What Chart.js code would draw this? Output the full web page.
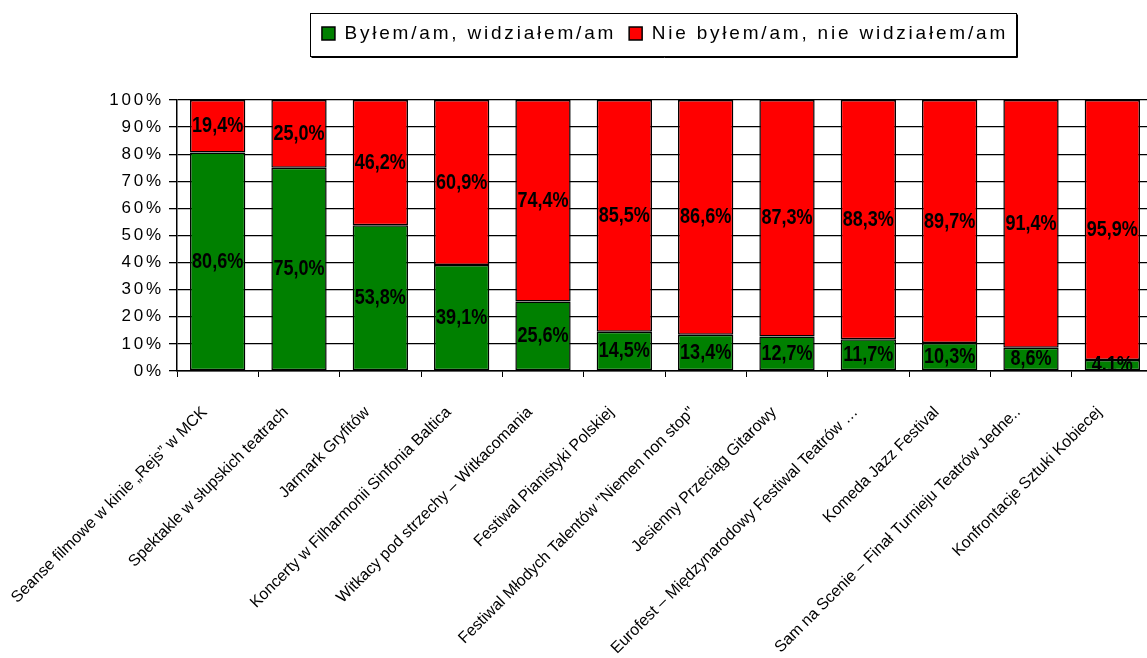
<!DOCTYPE html>
<html lang="pl">
<head>
<meta charset="utf-8">
<title>Udział w wydarzeniach kulturalnych</title>
<script src="https://cdn.jsdelivr.net/npm/chart.js@4.4.0/dist/chart.umd.min.js"></script>
<style>
  html, body { margin: 0; padding: 0; background: #fff; overflow: hidden; }
  #wrap { width: 1160px; height: 658px; }
</style>
</head>
<body>
<div id="wrap"><canvas id="chart" width="1160" height="658"></canvas></div>
<script>
// Events shown on the category axis
const categories = [
  'Seanse filmowe w kinie \u201eRejs\u201d w MCK',
  'Spektakle w słupskich teatrach',
  'Jarmark Gryfitów',
  'Koncerty w Filharmonii Sinfonia Baltica',
  'Witkacy pod strzechy \u2013 Witkacomania',
  'Festiwal Pianistyki Polskiej',
  'Festiwal Młodych Talentów "Niemen non stop"',
  'Jesienny Przeciąg Gitarowy',
  'Eurofest \u2013 Międzynarodowy Festiwal Teatrów \u2026',
  'Komeda Jazz Festival',
  'Sam na Scenie \u2013 Finał Turnieju Teatrów Jedne..',
  'Konfrontacje Sztuki Kobiecej'
];

// Share of respondents (%)
const seenValues    = [80.6, 75.0, 53.8, 39.1, 25.6, 14.5, 13.4, 12.7, 11.7, 10.3, 8.6, 4.1];
const notSeenValues = [19.4, 25.0, 46.2, 60.9, 74.4, 85.5, 86.6, 87.3, 88.3, 89.7, 91.4, 95.9];

const seriesNames  = ['Byłem/am, widziałem/am', 'Nie byłem/am, nie widziałem/am'];
const seriesColors = ['#008000', '#FF0000'];

// Percent axis
const yMin = 0, yMax = 100, yStep = 10;

const FONT = '"Liberation Sans", Arial, Helvetica, sans-serif';
const WIDE_SPACING = '2.8px';
const LABEL_SPACING = '0px';

const fmtPct = v => v.toFixed(1).replace('.', ',') + '%';

// Letter spacing for legend / value-axis text; category labels get their own
const textSpacing = {
  id: 'textSpacing',
  beforeLayout(chart) {
    chart.ctx.letterSpacing = WIDE_SPACING;
    const lg = chart.legend;
    if (lg && !lg._fixedHeight) {
      const fit = lg.fit;
      lg.fit = function () { fit.call(this); this.height = 89; };
      lg._fixedHeight = true;
    }
  },
  afterLayout(chart) {
    const sx = chart.scales.x;
    if (sx && !sx._spaced) {
      const draw = sx.drawLabels;
      sx.drawLabels = function (area) {
        const c = this.ctx;
        const prev = c.letterSpacing;
        c.letterSpacing = LABEL_SPACING;
        draw.call(this, area);
        c.letterSpacing = prev;
      };
      sx._spaced = true;
    }
  },
  beforeDraw(chart) {
    chart.ctx.letterSpacing = WIDE_SPACING;
  }
};

// Value labels in the middle of every stacked segment
const segmentLabels = {
  id: 'segmentLabels',
  afterDatasetsDraw(chart) {
    const { ctx, chartArea } = chart;
    ctx.save();
    ctx.beginPath();
    ctx.rect(chartArea.left, chartArea.top, chartArea.right - chartArea.left, chartArea.bottom - chartArea.top);
    ctx.clip();
    ctx.letterSpacing = '0px';
    ctx.font = 'bold 22px ' + FONT;
    ctx.fillStyle = '#000';
    ctx.textAlign = 'center';
    ctx.textBaseline = 'middle';
    chart.data.datasets.forEach((ds, di) => {
      chart.getDatasetMeta(di).data.forEach((bar, i) => {
        const y = (bar.y + bar.base) / 2;
        ctx.save();
        ctx.translate(bar.x, y);
        ctx.scale(0.82, 1);
        ctx.fillText(fmtPct(ds.data[i]), 0, 0);
        ctx.restore();
      });
    });
    ctx.restore();
  }
};

// Frame around the legend
const legendFrame = {
  id: 'legendFrame',
  afterDraw(chart) {
    const boxes = chart.legend && chart.legend.legendHitBoxes;
    if (!boxes || !boxes.length) return;
    const l = Math.min(...boxes.map(b => b.left)) - 12;
    const r = Math.max(...boxes.map(b => b.left + b.width)) + 8;
    const t = boxes[0].top - 11;
    const b = boxes[0].top + boxes[0].height + 13;
    const ctx = chart.ctx;
    ctx.save();
    ctx.strokeStyle = '#000';
    ctx.lineWidth = 1;
    ctx.strokeRect(Math.round(l) + 0.5, Math.round(t) + 0.5, Math.round(r - l), Math.round(b - t));
    ctx.beginPath();
    ctx.moveTo(Math.round(l) + 1.5, Math.round(b) + 1.5);
    ctx.lineTo(Math.round(r) + 1.5, Math.round(b) + 1.5);
    ctx.lineTo(Math.round(r) + 1.5, Math.round(t) + 1.5);
    ctx.stroke();
    ctx.restore();
  }
};

const barStyle = {
  borderColor: '#000',
  borderWidth: 1.5,
  borderSkipped: false,
  barPercentage: 0.68,
  categoryPercentage: 1
};

new Chart(document.getElementById('chart'), {
  type: 'bar',
  data: {
    labels: categories,
    datasets: [
      Object.assign({ label: seriesNames[0], data: seenValues, backgroundColor: seriesColors[0] }, barStyle),
      Object.assign({ label: seriesNames[1], data: notSeenValues, backgroundColor: seriesColors[1] }, barStyle)
    ]
  },
  options: {
    responsive: false,
    animation: false,
    devicePixelRatio: 1,
    layout: { padding: { top: 11, left: 0, right: 7, bottom: 0 } },
    plugins: {
      legend: {
        position: 'top',
        fullSize: false,
        labels: {
          boxWidth: 13,
          boxHeight: 13,
          padding: 13,
          color: '#000',
          font: { family: FONT, size: 19 }
        }
      },
      tooltip: { enabled: false }
    },
    scales: {
      x: {
        stacked: true,
        offset: true,
        grid: { display: true, drawOnChartArea: false, drawTicks: true, tickLength: 6, color: '#000', lineWidth: 1, offset: true },
        border: { display: true, color: '#000', width: 1.5 },
        ticks: {
          autoSkip: false,
          minRotation: 45,
          maxRotation: 45,
          color: '#000',
          padding: 26,
          labelOffset: -13,
          font: { family: FONT, size: 16 }
        },
        afterFit(s) {
          s.height = 287;
          s.paddingLeft = 0;
          s.paddingRight = 0;
        }
      },
      y: {
        stacked: true,
        min: yMin,
        max: yMax,
        ticks: {
          stepSize: yStep,
          callback: v => v + '%',
          color: '#000',
          padding: 5,
          font: { family: FONT, size: 17 }
        },
        grid: { color: '#000', lineWidth: 1.3, tickLength: 8 },
        border: { color: '#000', width: 1.5 },
        afterFit(s) {
          s.width = 177;
          s.paddingTop = 0;
          s.paddingBottom = 0;
        }
      }
    }
  },
  plugins: [textSpacing, segmentLabels, legendFrame]
});
</script>
</body>
</html>
